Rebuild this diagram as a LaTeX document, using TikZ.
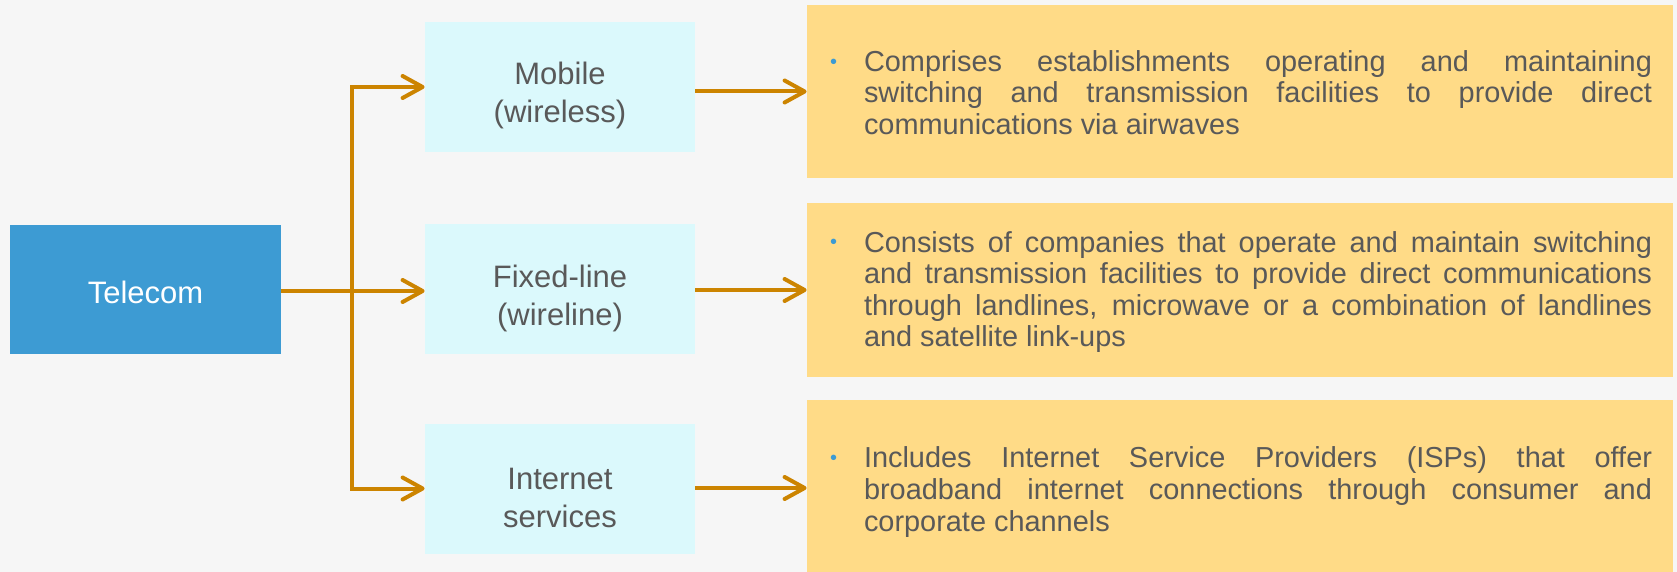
\documentclass[tikz,border=0pt]{standalone}
\usepackage{fontspec}
\setmainfont{Liberation Sans}
\usetikzlibrary{arrows.meta,calc}
\definecolor{bgc}{HTML}{F6F6F6}
\definecolor{telblue}{HTML}{3D9BD3}
\definecolor{catcyan}{HTML}{DBF9FC}
\definecolor{yel}{HTML}{FFDB87}
\definecolor{arrc}{RGB}{204,132,0}
\definecolor{txtgrey}{HTML}{595959}
\tikzset{
  tel/.style={fill=telblue, text=white, minimum width=135.5pt, minimum height=64.5pt, inner sep=0pt,
    font=\fontsize{15.5}{19}\selectfont},
  cat/.style={fill=catcyan, text=txtgrey, minimum width=135pt, minimum height=65pt, inner sep=0pt,
    align=center, font=\fontsize{15.5}{18.8}\selectfont},
  ybox/.style={fill=yel, minimum width=433pt, inner sep=0pt},
  ytext/.style={anchor=west, text width=394pt, align=justify, text=txtgrey, inner sep=0pt,
    font=\fontsize{14.45}{15.8}\selectfont},
  arr/.style={draw=arrc, line width=2pt, -{Straight Barb[length=10pt,width=11pt,round]}},
}
\newcommand{\ybullet}{\llap{\textcolor{telblue}{\raisebox{1.6pt}{\fontsize{10}{10}\selectfont •}}\hspace{13.5pt}}}
\newcommand{\lowstrut}[1]{\rule{0pt}{#1}}
\begin{document}
\begin{tikzpicture}[x=0.5pt,y=-0.5pt]
  \useasboundingbox (0,0) rectangle (1677,572);
  \fill[bgc] (0,0) rectangle (1677,572);
  \clip (0,0) rectangle (1677,572);
  % left column
  \node[tel] (telecom) at (145.5,289.5) {\lowstrut{14pt}Telecom};
  \node[cat] (mobile) at (560,87) {\lowstrut{20pt}Mobile\\(wireless)};
  \node[cat] (fixed) at (560,289.5) {\lowstrut{20pt}Fixed-line\\(wireline)};
  \node[cat] (internet) at (560,488.5) {\lowstrut{20pt}Internet\\services};
  % yellow boxes
  \node[ybox, minimum height=86.5pt] (y1) at (1240,91.5) {};
  \node[ybox, minimum height=87pt] (y2) at (1240,290) {};
  \node[ybox, minimum height=88pt] (y3) at (1240,488) {};
  \node[ytext] (t1) at ($(y1.west)+(57,1)$) {\ybullet Comprises establishments operating and maintaining\linebreak switching and transmission facilities to provide direct\linebreak communications via airwaves};
  \node[ytext] (t2) at ($(y2.west)+(57,2)$) {\ybullet Consists of companies that operate and maintain switching\linebreak and transmission facilities to provide direct communications\linebreak through landlines, microwave or a combination of landlines\linebreak and satellite link-ups};
  \node[ytext] (t3) at ($(y3.west)+(57,4)$) {\ybullet Includes Internet Service Providers (ISPs) that offer\linebreak broadband internet connections through consumer and\linebreak corporate channels};
  % connectors
  \coordinate (j) at (352,291);
  \draw[arr] (telecom.east |- j) -- (fixed.west |- j);
  \draw[arr] (j) |- (mobile.west);
  \draw[arr] (j) |- (internet.west);
  \draw[arr] (mobile.east |- y1.west) -- (y1.west);
  \draw[arr] (fixed.east |- y2.west) -- (y2.west);
  \draw[arr] (internet.east |- y3.west) -- (y3.west);
\end{tikzpicture}
\end{document}
